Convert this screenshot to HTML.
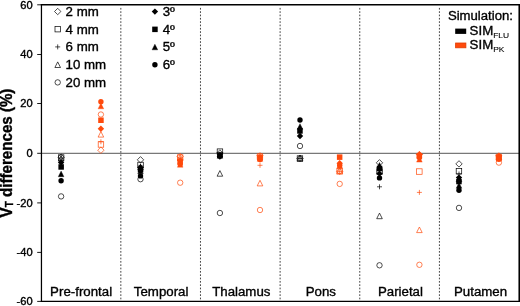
<!DOCTYPE html>
<html><head><meta charset="utf-8"><title>VT differences</title>
<style>
html,body{margin:0;padding:0;background:#fff;}
svg{display:block;}
text{font-family:'Liberation Sans', sans-serif;fill:#000;stroke:#000;stroke-width:0.35px;}
</style></head><body>
<svg width="520" height="306" viewBox="0 0 520 306">
<rect x="0" y="0" width="520" height="306" fill="#fff"/>
<line x1="120.84" y1="7.9" x2="120.84" y2="301.4" stroke="#444" stroke-width="1" stroke-dasharray="1.7 1.63"/>
<line x1="200.48" y1="7.9" x2="200.48" y2="301.4" stroke="#444" stroke-width="1" stroke-dasharray="1.7 1.63"/>
<line x1="280.12" y1="7.9" x2="280.12" y2="301.4" stroke="#444" stroke-width="1" stroke-dasharray="1.7 1.63"/>
<line x1="359.77" y1="7.9" x2="359.77" y2="301.4" stroke="#444" stroke-width="1" stroke-dasharray="1.7 1.63"/>
<line x1="439.41" y1="7.9" x2="439.41" y2="301.4" stroke="#444" stroke-width="1" stroke-dasharray="1.7 1.63"/>
<line x1="41.45" y1="153.3" x2="519.3" y2="153.3" stroke="#444" stroke-width="0.9"/>
<circle cx="61.1" cy="196.4" r="2.7" fill="none" stroke="#000" stroke-width="0.7"/>
<path d="M61.1 154.0L64.3 157.2L61.1 160.4L57.9 157.2Z" fill="none" stroke="#000" stroke-width="0.7"/>
<rect x="58.4" y="154.8" width="5.5" height="5.5" fill="none" stroke="#000" stroke-width="0.7"/>
<path d="M58.6 158.0H63.6M61.1 155.5V160.5" fill="none" stroke="#000" stroke-width="0.7"/>
<path d="M61.1 155.5L63.9 161.1L58.3 161.1Z" fill="none" stroke="#000" stroke-width="0.7"/>
<path d="M61.1 159.3L64.3 162.5L61.1 165.7L57.9 162.5Z" fill="#000" stroke="none" stroke-width="0"/>
<rect x="58.4" y="164.2" width="5.5" height="5.5" fill="#000" stroke="none" stroke-width="0"/>
<path d="M61.1 171.1L63.9 176.7L58.3 176.7Z" fill="#000" stroke="#000" stroke-width="0.4"/>
<circle cx="61.1" cy="180.7" r="2.7" fill="#000" stroke="none" stroke-width="0"/>
<circle cx="100.9" cy="114.5" r="2.7" fill="none" stroke="#ff4a0c" stroke-width="0.7"/>
<path d="M100.9 131.5L103.7 137.1L98.1 137.1Z" fill="none" stroke="#ff4a0c" stroke-width="0.7"/>
<path d="M98.4 141.8H103.4M100.9 139.3V144.3" fill="none" stroke="#ff4a0c" stroke-width="0.7"/>
<rect x="98.2" y="141.7" width="5.5" height="5.5" fill="none" stroke="#ff4a0c" stroke-width="0.7"/>
<path d="M100.9 147.0L104.1 150.2L100.9 153.4L97.7 150.2Z" fill="none" stroke="#ff4a0c" stroke-width="0.7"/>
<path d="M100.9 125.5L104.1 128.7L100.9 131.9L97.7 128.7Z" fill="#ff4a0c" stroke="none" stroke-width="0"/>
<rect x="98.2" y="117.5" width="5.5" height="5.5" fill="#ff4a0c" stroke="none" stroke-width="0"/>
<path d="M100.9 103.2L103.7 108.8L98.1 108.8Z" fill="#ff4a0c" stroke="#ff4a0c" stroke-width="0.4"/>
<circle cx="100.9" cy="101.8" r="2.7" fill="#ff4a0c" stroke="none" stroke-width="0"/>
<circle cx="140.5" cy="179.2" r="2.7" fill="none" stroke="#000" stroke-width="0.7"/>
<path d="M140.5 156.6L143.7 159.8L140.5 163.0L137.3 159.8Z" fill="none" stroke="#000" stroke-width="0.7"/>
<rect x="137.8" y="162.2" width="5.5" height="5.5" fill="none" stroke="#000" stroke-width="0.7"/>
<path d="M138.0 166.0H143.0M140.5 163.5V168.5" fill="none" stroke="#000" stroke-width="0.7"/>
<path d="M140.5 164.2L143.3 169.8L137.7 169.8Z" fill="none" stroke="#000" stroke-width="0.7"/>
<path d="M140.5 164.3L143.7 167.5L140.5 170.7L137.3 167.5Z" fill="#000" stroke="none" stroke-width="0"/>
<rect x="137.8" y="166.8" width="5.5" height="5.5" fill="#000" stroke="none" stroke-width="0"/>
<path d="M140.5 168.2L143.3 173.8L137.7 173.8Z" fill="#000" stroke="#000" stroke-width="0.4"/>
<circle cx="140.5" cy="175.9" r="2.7" fill="#000" stroke="none" stroke-width="0"/>
<circle cx="180.2" cy="182.7" r="2.7" fill="none" stroke="#ff4a0c" stroke-width="0.7"/>
<path d="M180.2 153.3L183.4 156.5L180.2 159.7L177.0 156.5Z" fill="none" stroke="#ff4a0c" stroke-width="0.7"/>
<rect x="177.4" y="154.8" width="5.5" height="5.5" fill="none" stroke="#ff4a0c" stroke-width="0.7"/>
<path d="M180.2 154.4L183.0 160.0L177.4 160.0Z" fill="none" stroke="#ff4a0c" stroke-width="0.7"/>
<path d="M177.7 158.0H182.7M180.2 155.5V160.5" fill="none" stroke="#ff4a0c" stroke-width="0.7"/>
<path d="M180.2 157.2L183.4 160.4L180.2 163.6L177.0 160.4Z" fill="#ff4a0c" stroke="none" stroke-width="0"/>
<rect x="177.4" y="159.2" width="5.5" height="5.5" fill="#ff4a0c" stroke="none" stroke-width="0"/>
<circle cx="180.2" cy="164.0" r="2.7" fill="#ff4a0c" stroke="none" stroke-width="0"/>
<path d="M180.2 161.6L183.0 167.2L177.4 167.2Z" fill="#ff4a0c" stroke="#ff4a0c" stroke-width="0.4"/>
<circle cx="219.9" cy="213.0" r="2.7" fill="none" stroke="#000" stroke-width="0.7"/>
<path d="M219.9 170.6L222.7 176.2L217.1 176.2Z" fill="none" stroke="#000" stroke-width="0.7"/>
<rect x="217.2" y="148.9" width="5.5" height="5.5" fill="none" stroke="#000" stroke-width="0.7"/>
<path d="M219.9 149.8L223.1 153.0L219.9 156.2L216.7 153.0Z" fill="none" stroke="#000" stroke-width="0.7"/>
<path d="M217.4 154.0H222.4M219.9 151.5V156.5" fill="none" stroke="#000" stroke-width="0.7"/>
<rect x="217.2" y="152.2" width="5.5" height="5.5" fill="#000" stroke="none" stroke-width="0"/>
<path d="M219.9 152.7L222.7 158.3L217.1 158.3Z" fill="#000" stroke="#000" stroke-width="0.4"/>
<circle cx="219.9" cy="156.0" r="2.7" fill="#000" stroke="none" stroke-width="0"/>
<path d="M219.9 153.3L223.1 156.5L219.9 159.7L216.7 156.5Z" fill="#000" stroke="none" stroke-width="0"/>
<circle cx="260.0" cy="210.0" r="2.7" fill="none" stroke="#ff4a0c" stroke-width="0.7"/>
<path d="M260.0 180.3L262.8 185.9L257.2 185.9Z" fill="none" stroke="#ff4a0c" stroke-width="0.7"/>
<path d="M257.5 165.3H262.5M260.0 162.8V167.8" fill="none" stroke="#ff4a0c" stroke-width="0.7"/>
<path d="M260.0 152.6L263.2 155.8L260.0 159.0L256.8 155.8Z" fill="none" stroke="#ff4a0c" stroke-width="0.7"/>
<rect x="257.2" y="153.8" width="5.5" height="5.5" fill="none" stroke="#ff4a0c" stroke-width="0.7"/>
<path d="M260.0 153.8L263.2 157.0L260.0 160.2L256.8 157.0Z" fill="#ff4a0c" stroke="none" stroke-width="0"/>
<rect x="257.2" y="154.8" width="5.5" height="5.5" fill="#ff4a0c" stroke="none" stroke-width="0"/>
<path d="M260.0 155.7L262.8 161.3L257.2 161.3Z" fill="#ff4a0c" stroke="#ff4a0c" stroke-width="0.4"/>
<circle cx="260.0" cy="159.5" r="2.7" fill="#ff4a0c" stroke="none" stroke-width="0"/>
<circle cx="300.0" cy="146.0" r="2.7" fill="none" stroke="#000" stroke-width="0.7"/>
<path d="M300.0 155.2L303.2 158.4L300.0 161.6L296.8 158.4Z" fill="none" stroke="#000" stroke-width="0.7"/>
<rect x="297.2" y="155.8" width="5.5" height="5.5" fill="none" stroke="#000" stroke-width="0.7"/>
<path d="M297.5 158.5H302.5M300.0 156.0V161.0" fill="none" stroke="#000" stroke-width="0.7"/>
<path d="M300.0 155.2L302.8 160.8L297.2 160.8Z" fill="none" stroke="#000" stroke-width="0.7"/>
<path d="M300.0 132.8L303.2 136.0L300.0 139.2L296.8 136.0Z" fill="#000" stroke="none" stroke-width="0"/>
<rect x="297.2" y="128.2" width="5.5" height="5.5" fill="#000" stroke="none" stroke-width="0"/>
<path d="M300.0 123.7L302.8 129.3L297.2 129.3Z" fill="#000" stroke="#000" stroke-width="0.4"/>
<circle cx="300.0" cy="120.0" r="2.7" fill="#000" stroke="none" stroke-width="0"/>
<circle cx="339.7" cy="183.9" r="2.7" fill="none" stroke="#ff4a0c" stroke-width="0.7"/>
<path d="M339.7 167.8L342.5 173.4L336.9 173.4Z" fill="none" stroke="#ff4a0c" stroke-width="0.7"/>
<rect x="336.9" y="168.6" width="5.5" height="5.5" fill="none" stroke="#ff4a0c" stroke-width="0.7"/>
<path d="M339.7 168.1L342.9 171.3L339.7 174.5L336.5 171.3Z" fill="none" stroke="#ff4a0c" stroke-width="0.7"/>
<path d="M337.2 171.6H342.2M339.7 169.1V174.1" fill="none" stroke="#ff4a0c" stroke-width="0.7"/>
<circle cx="339.7" cy="165.2" r="2.7" fill="#ff4a0c" stroke="none" stroke-width="0"/>
<path d="M339.7 160.1L342.9 163.3L339.7 166.5L336.5 163.3Z" fill="#ff4a0c" stroke="none" stroke-width="0"/>
<path d="M339.7 162.6L342.5 168.2L336.9 168.2Z" fill="#ff4a0c" stroke="#ff4a0c" stroke-width="0.4"/>
<rect x="336.9" y="154.4" width="5.5" height="5.5" fill="#ff4a0c" stroke="none" stroke-width="0"/>
<circle cx="379.5" cy="265.3" r="2.7" fill="none" stroke="#000" stroke-width="0.7"/>
<path d="M379.5 213.1L382.3 218.7L376.7 218.7Z" fill="none" stroke="#000" stroke-width="0.7"/>
<path d="M377.0 186.8H382.0M379.5 184.3V189.3" fill="none" stroke="#000" stroke-width="0.7"/>
<path d="M379.5 159.6L382.7 162.8L379.5 166.0L376.3 162.8Z" fill="none" stroke="#000" stroke-width="0.7"/>
<rect x="376.8" y="168.8" width="5.5" height="5.5" fill="none" stroke="#000" stroke-width="0.7"/>
<path d="M379.5 162.5L382.3 168.1L376.7 168.1Z" fill="#000" stroke="#000" stroke-width="0.4"/>
<rect x="376.8" y="165.8" width="5.5" height="5.5" fill="#000" stroke="none" stroke-width="0"/>
<path d="M379.5 170.4L382.7 173.6L379.5 176.8L376.3 173.6Z" fill="#000" stroke="none" stroke-width="0"/>
<circle cx="379.5" cy="177.9" r="2.7" fill="#000" stroke="none" stroke-width="0"/>
<circle cx="419.4" cy="264.8" r="2.7" fill="none" stroke="#ff4a0c" stroke-width="0.7"/>
<path d="M419.4 227.0L422.2 232.6L416.6 232.6Z" fill="none" stroke="#ff4a0c" stroke-width="0.7"/>
<path d="M416.9 192.4H421.9M419.4 189.9V194.9" fill="none" stroke="#ff4a0c" stroke-width="0.7"/>
<rect x="416.6" y="168.8" width="5.5" height="5.5" fill="none" stroke="#ff4a0c" stroke-width="0.7"/>
<path d="M419.4 151.3L422.6 154.5L419.4 157.7L416.2 154.5Z" fill="none" stroke="#ff4a0c" stroke-width="0.7"/>
<path d="M419.4 151.3L422.6 154.5L419.4 157.7L416.2 154.5Z" fill="#ff4a0c" stroke="none" stroke-width="0"/>
<rect x="416.6" y="153.2" width="5.5" height="5.5" fill="#ff4a0c" stroke="none" stroke-width="0"/>
<circle cx="419.4" cy="157.5" r="2.7" fill="#ff4a0c" stroke="none" stroke-width="0"/>
<path d="M419.4 156.5L422.2 162.1L416.6 162.1Z" fill="#ff4a0c" stroke="#ff4a0c" stroke-width="0.4"/>
<circle cx="459.0" cy="207.9" r="2.7" fill="none" stroke="#000" stroke-width="0.7"/>
<path d="M459.0 160.7L462.2 163.9L459.0 167.1L455.8 163.9Z" fill="none" stroke="#000" stroke-width="0.7"/>
<rect x="456.2" y="168.4" width="5.5" height="5.5" fill="none" stroke="#000" stroke-width="0.7"/>
<path d="M456.5 174.0H461.5M459.0 171.5V176.5" fill="none" stroke="#000" stroke-width="0.7"/>
<path d="M459.0 176.2L461.8 181.8L456.2 181.8Z" fill="none" stroke="#000" stroke-width="0.7"/>
<path d="M459.0 174.4L462.2 177.6L459.0 180.8L455.8 177.6Z" fill="#000" stroke="none" stroke-width="0"/>
<rect x="456.2" y="178.8" width="5.5" height="5.5" fill="#000" stroke="none" stroke-width="0"/>
<path d="M459.0 182.7L461.8 188.3L456.2 188.3Z" fill="#000" stroke="#000" stroke-width="0.4"/>
<circle cx="459.0" cy="190.2" r="2.7" fill="#000" stroke="none" stroke-width="0"/>
<circle cx="498.9" cy="162.6" r="2.7" fill="none" stroke="#ff4a0c" stroke-width="0.7"/>
<path d="M498.9 152.8L502.1 156.0L498.9 159.2L495.7 156.0Z" fill="none" stroke="#ff4a0c" stroke-width="0.7"/>
<path d="M498.9 153.7L501.7 159.3L496.1 159.3Z" fill="none" stroke="#ff4a0c" stroke-width="0.7"/>
<rect x="496.1" y="154.2" width="5.5" height="5.5" fill="none" stroke="#ff4a0c" stroke-width="0.7"/>
<path d="M496.4 157.0H501.4M498.9 154.5V159.5" fill="none" stroke="#ff4a0c" stroke-width="0.7"/>
<path d="M498.9 152.8L502.1 156.0L498.9 159.2L495.7 156.0Z" fill="#ff4a0c" stroke="none" stroke-width="0"/>
<rect x="496.1" y="154.8" width="5.5" height="5.5" fill="#ff4a0c" stroke="none" stroke-width="0"/>
<path d="M498.9 155.5L501.7 161.1L496.1 161.1Z" fill="#ff4a0c" stroke="#ff4a0c" stroke-width="0.4"/>
<circle cx="498.9" cy="159.3" r="2.7" fill="#ff4a0c" stroke="none" stroke-width="0"/>
<path d="M41.45 4.1V302.0" stroke="#000" stroke-width="1.25" fill="none"/>
<path d="M40.85 4.8H520" stroke="#000" stroke-width="1.5" fill="none"/>
<path d="M40.85 301.4H520" stroke="#000" stroke-width="1.35" fill="none"/>
<path d="M519.3 4.1V302.0" stroke="#000" stroke-width="1.7" fill="none"/>
<line x1="37.2" y1="4.8" x2="41.45" y2="4.8" stroke="#000" stroke-width="0.9"/>
<text transform="translate(32.6 8.6) scale(1.07 1)" font-size="10.4" text-anchor="end">60</text>
<line x1="37.2" y1="54.5" x2="41.45" y2="54.5" stroke="#000" stroke-width="0.9"/>
<text transform="translate(32.6 58.3) scale(1.07 1)" font-size="10.4" text-anchor="end">40</text>
<line x1="37.2" y1="103.5" x2="41.45" y2="103.5" stroke="#000" stroke-width="0.9"/>
<text transform="translate(32.6 107.3) scale(1.07 1)" font-size="10.4" text-anchor="end">20</text>
<line x1="37.2" y1="153.3" x2="41.45" y2="153.3" stroke="#000" stroke-width="0.9"/>
<text transform="translate(32.6 157.1) scale(1.07 1)" font-size="10.4" text-anchor="end">0</text>
<line x1="37.2" y1="202.9" x2="41.45" y2="202.9" stroke="#000" stroke-width="0.9"/>
<text transform="translate(32.6 206.7) scale(1.07 1)" font-size="10.4" text-anchor="end">-20</text>
<line x1="37.2" y1="252.4" x2="41.45" y2="252.4" stroke="#000" stroke-width="0.9"/>
<text transform="translate(32.6 256.2) scale(1.07 1)" font-size="10.4" text-anchor="end">-40</text>
<line x1="37.2" y1="301.4" x2="41.45" y2="301.4" stroke="#000" stroke-width="0.9"/>
<text transform="translate(32.6 305.2) scale(1.07 1)" font-size="10.4" text-anchor="end">-60</text>
<text transform="translate(11.8 217.4) rotate(-90) scale(1 1.09)" font-size="15.2" font-weight="bold" textLength="128.8" lengthAdjust="spacingAndGlyphs" stroke-width="0.3">V<tspan font-size="10.2" dy="1.2">T</tspan><tspan dy="-1.2"> differences (%)</tspan></text>
<text transform="translate(81.1 295.7) scale(1.03 0.97)" font-size="12.9" text-anchor="middle">Pre-frontal</text>
<text transform="translate(161.1 295.7) scale(1.03 0.97)" font-size="12.9" text-anchor="middle">Temporal</text>
<text transform="translate(241.3 295.7) scale(1.03 0.97)" font-size="12.9" text-anchor="middle">Thalamus</text>
<text transform="translate(320.8 295.7) scale(1.03 0.97)" font-size="12.9" text-anchor="middle">Pons</text>
<text transform="translate(400.4 295.7) scale(1.03 0.97)" font-size="12.9" text-anchor="middle">Parietal</text>
<text transform="translate(480.55 295.7) scale(1.03 0.97)" font-size="12.9" text-anchor="middle">Putamen</text>
<path d="M57.7 8.3L60.9 11.5L57.7 14.7L54.5 11.5Z" fill="none" stroke="#000" stroke-width="0.7"/>
<text transform="translate(65.6 15.8) scale(1.03 0.97)" font-size="12.9">2 mm</text>
<rect x="55.0" y="26.4" width="5.5" height="5.5" fill="none" stroke="#000" stroke-width="0.7"/>
<text transform="translate(65.6 33.5) scale(1.03 0.97)" font-size="12.9">4 mm</text>
<path d="M55.2 46.9H60.2M57.7 44.4V49.4" fill="none" stroke="#000" stroke-width="0.7"/>
<text transform="translate(65.6 51.2) scale(1.03 0.97)" font-size="12.9">6 mm</text>
<path d="M57.7 61.9L60.5 67.5L54.9 67.5Z" fill="none" stroke="#000" stroke-width="0.7"/>
<text transform="translate(65.6 69.0) scale(1.03 0.97)" font-size="12.9">10 mm</text>
<circle cx="57.7" cy="82.4" r="2.7" fill="none" stroke="#000" stroke-width="0.7"/>
<text transform="translate(65.6 86.7) scale(1.03 0.97)" font-size="12.9">20 mm</text>
<path d="M154.9 8.4L158.1 11.6L154.9 14.8L151.7 11.6Z" fill="#000" stroke="none" stroke-width="0"/>
<text transform="translate(162.7 15.8) scale(1.03 0.97)" font-size="12.9">3º</text>
<rect x="152.2" y="26.6" width="5.5" height="5.5" fill="#000" stroke="none" stroke-width="0"/>
<text transform="translate(162.7 33.5) scale(1.03 0.97)" font-size="12.9">4º</text>
<path d="M154.9 44.2L157.7 49.8L152.1 49.8Z" fill="#000" stroke="#000" stroke-width="0.4"/>
<text transform="translate(162.7 51.2) scale(1.03 0.97)" font-size="12.9">5º</text>
<circle cx="154.9" cy="64.8" r="2.7" fill="#000" stroke="none" stroke-width="0"/>
<text transform="translate(162.7 69.0) scale(1.03 0.97)" font-size="12.9">6º</text>
<text transform="translate(447.9 19.6) scale(1.03 0.97)" font-size="12.9" textLength="63.2" lengthAdjust="spacingAndGlyphs">Simulation:</text>
<rect x="455.2" y="28.6" width="11" height="5.3" fill="#000"/>
<rect x="455.6" y="43.0" width="10.3" height="4.8" fill="#ff4a0c" stroke="#e03c00" stroke-width="0.8"/>
<text transform="translate(469.6 34.9) scale(1.03 0.97)" font-size="12.9">SIM<tspan font-size="8.2" dy="3.0" stroke-width="0.1">FLU</tspan></text>
<text transform="translate(469.6 48.9) scale(1.03 0.97)" font-size="12.9">SIM<tspan font-size="8.2" dy="3.0" stroke-width="0.1">PK</tspan></text>
</svg></body></html>
